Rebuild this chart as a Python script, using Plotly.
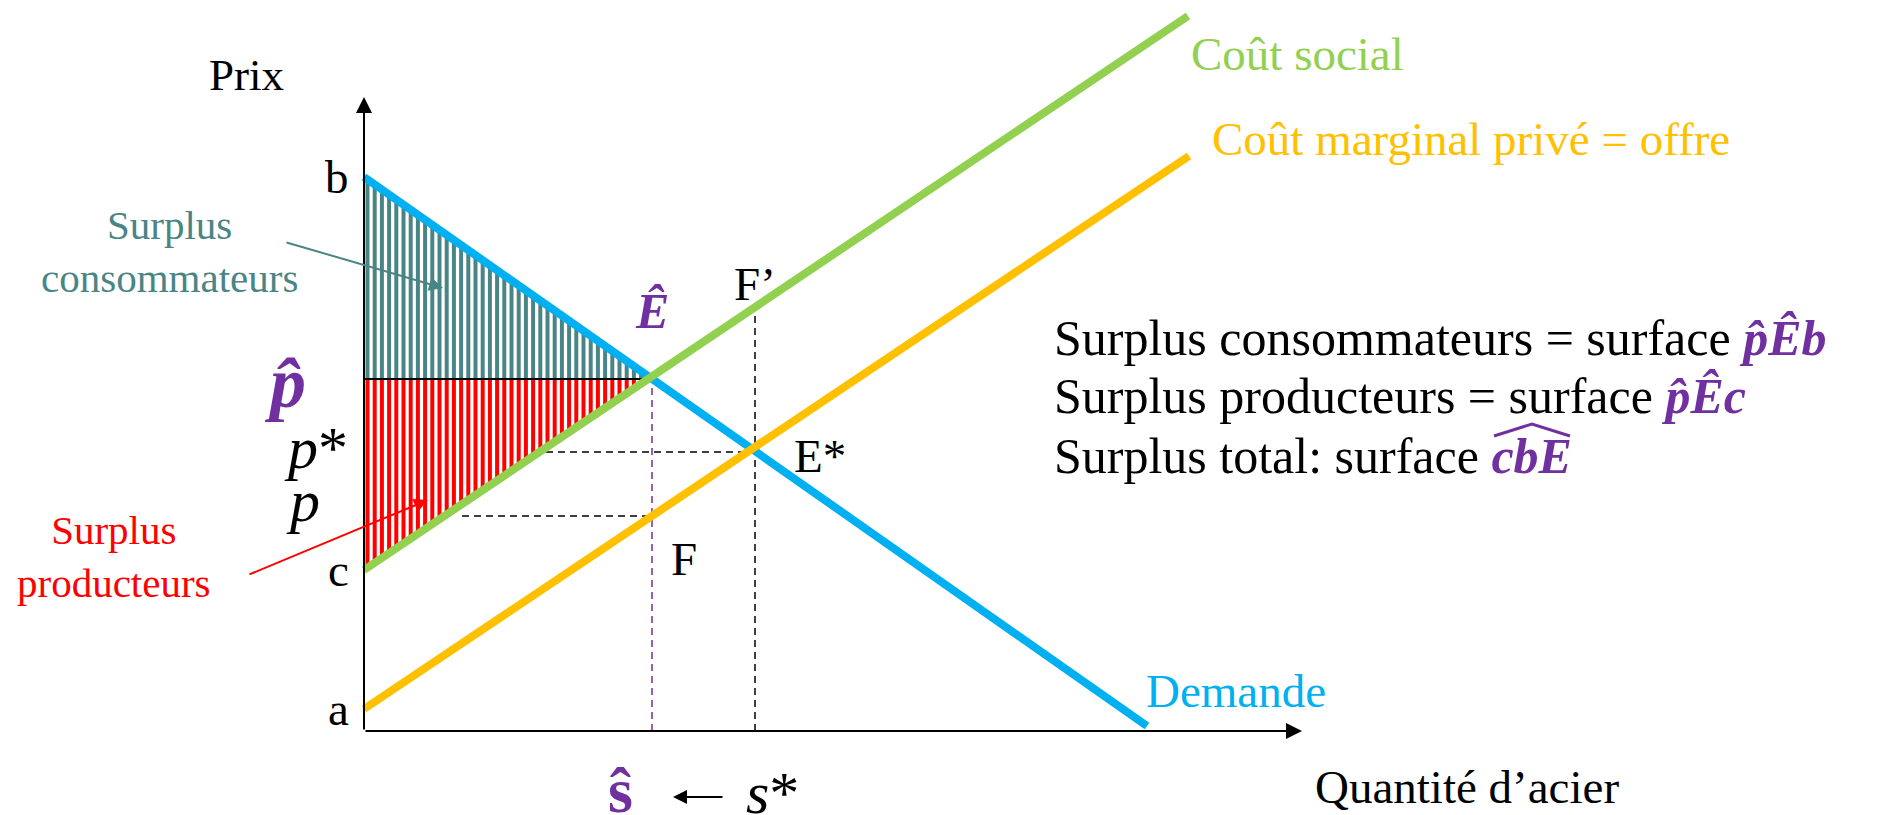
import numpy as np
import plotly.graph_objects as go

# ---- data (economic units) ----
b_price = 55.4          # demand intercept
c_price = 16.1          # social cost intercept
a_price = 2.2           # private marginal cost intercept
demand_q = [0, 78.3]
demand_p = [55.4, 0.5]
social_q = [0, 82.4]
social_p = [16.1, 71.5]
private_q = [0, 82.5]
private_p = [2.2, 57.5]
E_hat = (28.8, 35.2)    # social optimum
E_star = (39.1, 27.9)   # market equilibrium
F_pt = (28.8, 21.5)
Fp_pt = (39.1, 42.3)
p_hat, p_star, p_low = 35.2, 27.9, 21.5
pstar_dash_start = 18.2
p_dash_start = 9.8
x_axis_end = 93.8
y_axis_end = 63.4

BLUE = "#00B0F0"; GREEN = "#92D050"; ORANGE = "#FFC000"
RED = "#FF0000"; TEAL = "#4A8585"; PURPLE = "#7030A0"
SERIF = "Liberation Serif, Times New Roman, serif"

fig = go.Figure()

# hatching: vertical stripes inside the two surplus triangles
def lin(qs, ps, q):
    return ps[0] + (ps[1] - ps[0]) * (q - qs[0]) / (qs[1] - qs[0])

stripe_q = np.arange(0.35, E_hat[0], 0.72)
cx, cy, px_, py_ = [], [], [], []
for q in stripe_q:
    cx += [q, q, None]; cy += [p_hat, lin(demand_q, demand_p, q), None]
    px_ += [q, q, None]; py_ += [lin(social_q, social_p, q), p_hat, None]
fig.add_trace(go.Scatter(x=cx, y=cy, mode="lines", line=dict(color=TEAL, width=4),
                         hoverinfo="skip", showlegend=False))
fig.add_trace(go.Scatter(x=px_, y=py_, mode="lines", line=dict(color=RED, width=4),
                         hoverinfo="skip", showlegend=False))

# black borders
fig.add_trace(go.Scatter(x=[0, E_hat[0]], y=[b_price, E_hat[1]], mode="lines",
                         line=dict(color="black", width=2), hoverinfo="skip", showlegend=False))
fig.add_trace(go.Scatter(x=[0, E_hat[0]], y=[p_hat, p_hat], mode="lines",
                         line=dict(color="black", width=2), hoverinfo="skip", showlegend=False))

# dashed guides
dash = dict(color="black", width=1.5, dash="7px,5px")
fig.add_trace(go.Scatter(x=[pstar_dash_start, E_star[0]], y=[p_star, p_star], mode="lines",
                         line=dash, hoverinfo="skip", showlegend=False))
fig.add_trace(go.Scatter(x=[p_dash_start, F_pt[0]], y=[p_low, p_low], mode="lines",
                         line=dash, hoverinfo="skip", showlegend=False))
fig.add_trace(go.Scatter(x=[E_star[0], Fp_pt[0]], y=[0, Fp_pt[1]], mode="lines",
                         line=dash, hoverinfo="skip", showlegend=False))
fig.add_trace(go.Scatter(x=[E_hat[0], E_hat[0]], y=[0, E_hat[1]], mode="lines",
                         line=dict(color=PURPLE, width=1.5, dash="7px,5px"), hoverinfo="skip", showlegend=False))

# curves
fig.add_trace(go.Scatter(x=demand_q, y=demand_p, mode="lines", line=dict(color=BLUE, width=8),
                         hoverinfo="skip", showlegend=False))
fig.add_trace(go.Scatter(x=private_q, y=private_p, mode="lines", line=dict(color=ORANGE, width=8),
                         hoverinfo="skip", showlegend=False))
fig.add_trace(go.Scatter(x=social_q, y=social_p, mode="lines", line=dict(color=GREEN, width=8),
                         hoverinfo="skip", showlegend=False))

ann = []
def txt(x, y, s, size=47, color="black", xanchor="center", yanchor="middle", align="center", font=SERIF):
    ann.append(dict(x=x, y=y, xref="x", yref="y", text=s, showarrow=False,
                    font=dict(family=font, size=size, color=color),
                    xanchor=xanchor, yanchor=yanchor, align=align))

def arrow(x0, y0, x1, y1, color="black", width=2, head=2, size=1.5):
    ann.append(dict(x=x1, y=y1, ax=x0, ay=y0, xref="x", yref="y", axref="x", ayref="y",
                    text="", showarrow=True, arrowhead=head, arrowsize=size, arrowwidth=width,
                    arrowcolor=color, standoff=0, startstandoff=0))

# axes
arrow(0, 0, x_axis_end, 0, width=2, head=2, size=1.6)
arrow(0, 0, 0, y_axis_end, width=2, head=2, size=1.6)

txt(-11.8, 65.6, "Prix", size=45)
txt(82.5, 67.7, "Coût social", color=GREEN, xanchor="left")
txt(84.6, 59.2, "Coût marginal privé = offre", color=ORANGE, xanchor="left")
txt(78.0, 4.0, "Demande", color=BLUE, xanchor="left")
txt(94.9, -5.6, "Quantité d’acier", xanchor="left")

txt(-1.3, b_price, "b", xanchor="right")
txt(-1.3, c_price, "c", xanchor="right")
txt(-1.3, a_price, "a", xanchor="right")
txt(-5.6, 34.8, "<b><i>p̂</i></b>", size=72, color=PURPLE, xanchor="right")
txt(-1.4, 28.3, "<i>p</i>*", size=60, xanchor="right")
txt(-4.2, 23.0, "<i>p</i>", size=60, xanchor="right")

txt(E_hat[0], 42.0, "<b><i>Ê</i></b>", size=50, color=PURPLE)
txt(Fp_pt[0], 44.7, "F’")
txt(45.6, 27.5, "E*")
txt(32.0, 17.2, "F")

txt(25.6, -5.9, "<b>ŝ</b>", size=64, color=PURPLE)
arrow(36.0, -6.6, 30.9, -6.6, width=2, head=2, size=1.4)
txt(40.8, -6.2, "<i>s</i>*", size=60)

txt(-19.5, 48.0, "Surplus<br>consommateurs", size=41, color=TEAL)
arrow(-7.9, 48.9, 7.9, 44.3, color=TEAL, width=2, head=2, size=1.4)
txt(-25.0, 17.5, "Surplus<br>producteurs", size=41, color=RED)
arrow(-11.6, 15.6, 6.4, 23.1, color=RED, width=2, head=2, size=1.4)

txt(68.8, 39.3, "Surplus consommateurs = surface <b><i><span style='color:%s'>p̂Êb</span></i></b>" % PURPLE,
    size=50, xanchor="left")
txt(68.8, 33.5, "Surplus producteurs = surface <b><i><span style='color:%s'>p̂Êc</span></i></b>" % PURPLE,
    size=50, xanchor="left")
txt(68.8, 27.5, "Surplus total: surface <b><i><span style='color:%s'>cbE</span></i></b>" % PURPLE,
    size=50, xanchor="left")

# wide hat over "cbE"
shapes = [dict(type="path", xref="x", yref="y",
               path="M 113.0 29.5 L 116.8 30.7 L 120.6 29.5",
               line=dict(color=PURPLE, width=3))]

fig.update_layout(
    width=1892, height=815,
    margin=dict(l=0, r=0, t=0, b=0),
    paper_bgcolor="white", plot_bgcolor="white",
    xaxis=dict(range=[-36.4, 152.8], visible=False, fixedrange=True),
    yaxis=dict(range=[-8.4, 73.1], visible=False, fixedrange=True),
    annotations=ann,
    shapes=shapes,
    showlegend=False,
)

fig.write_html("out.html", config={"displayModeBar": False},
               post_script="document.body.style.margin='0';document.body.style.overflow='hidden';")
